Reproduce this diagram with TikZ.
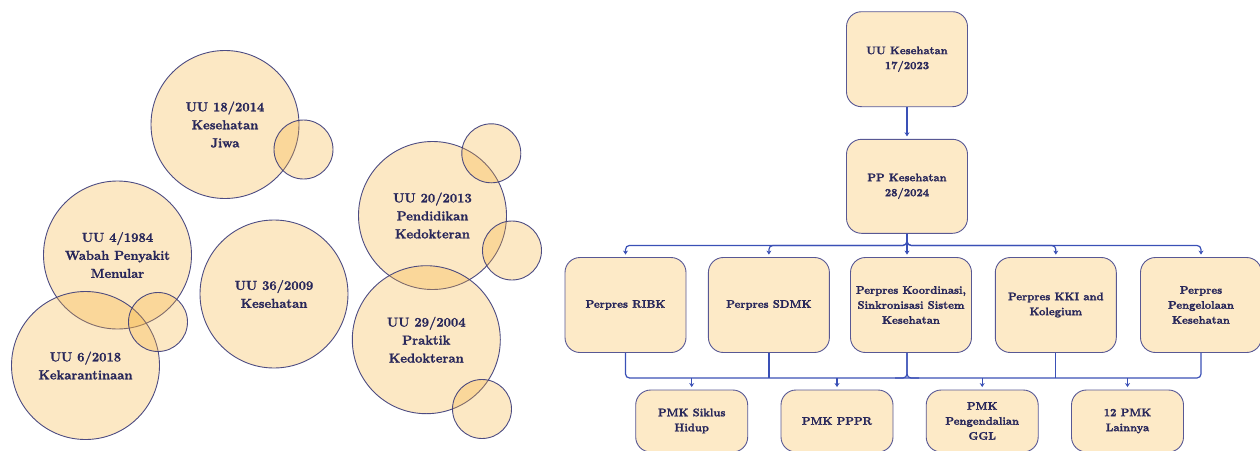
\documentclass[tikz,border=0pt]{standalone}
\usepackage{fontspec}
\setmainfont{Latin Modern Roman}[BoldFeatures={FakeBold=1.6}]
\usetikzlibrary{arrows.meta}
\definecolor{ink}{RGB}{40,39,90}
\definecolor{circline}{RGB}{58,58,120}
\definecolor{bubblefill}{RGB}{245,178,58}
\definecolor{boxfill}{RGB}{253,234,199}
\definecolor{boxline}{RGB}{88,88,148}
\definecolor{wire}{RGB}{58,80,182}
\begin{document}
\begin{tikzpicture}[x=1pt,y=-1pt,
  bubble/.style={circle, draw=circline, line width=0.9pt, fill=bubblefill,
    fill opacity=0.3, draw opacity=0.9, text opacity=1, inner sep=0pt,
    text=ink, font=\bfseries\fontsize{13}{18}\selectfont, align=center},
  bigbubble/.style={bubble, minimum size=148pt},
  smallbubble/.style={bubble, minimum size=59pt},
  box/.style={draw=boxline, line width=0.9pt, fill=boxfill, rounded corners=15pt,
    text=ink, font=\bfseries\fontsize{11}{15}\selectfont, align=center,
    inner sep=2pt, minimum width=121pt, minimum height=95pt},
  lowbox/.style={box, minimum width=112pt, minimum height=62pt},
  wireline/.style={draw=wire, line width=1.2pt, rounded corners=4pt},
  wirearrow/.style={wireline, -{Stealth[length=4pt,width=5pt]}, shorten >=2.5pt},
]
\useasboundingbox (0,0) rectangle (1260,450);

% ---- bubbles: laws in the health sector ----
\node[bigbubble] (jiwa) at (225,124.5) {UU 18/2014\\Kesehatan\\Jiwa};
\node[smallbubble] (jiwaS) at (303.5,149.5) {};

\node[bigbubble] (wabah) at (117.5,255) {UU 4/1984\\Wabah Penyakit\\Menular};
\node[bigbubble] (karantina) at (85.5,365.5) {UU 6/2018\\Kekarantinaan};
\node[smallbubble] (wabahS) at (158,322) {};

\node[bigbubble] (kes) at (274,294) {UU 36/2009\\Kesehatan};

\node[bigbubble] (dikdok) at (432.5,215.5) {UU 20/2013\\Pendidikan\\Kedokteran};
\node[smallbubble] (dikdokA) at (491.3,153.3) {};
\node[smallbubble] (dikdokB) at (512,250.5) {};

\node[bigbubble] (prakdok) at (426.3,339.7) {UU 29/2004\\Praktik\\Kedokteran};
\node[smallbubble] (prakdokS) at (482,409) {};

% ---- hierarchy of regulations ----
\node[box] (uu) at (907,59.2) {UU Kesehatan\\17/2023};
\node[box, minimum height=94pt] (pp) at (907,186.3) {PP Kesehatan\\28/2024};

\node[box] (ribk) at (625.5,305) {Perpres RIBK};
\node[box] (sdmk) at (768.9,305) {Perpres SDMK};
\node[box] (koord) at (911,305) {Perpres Koordinasi,\\Sinkronisasi Sistem\\Kesehatan};
\node[box] (kki) at (1055.8,305) {Perpres KKI and\\Kolegium};
\node[box] (peng) at (1201,305) {Perpres\\Pengelolaan\\Kesehatan};

\node[lowbox] (siklus) at (691.7,421) {PMK Siklus\\Hidup};
\node[lowbox] (pppr) at (837,421) {PMK PPPR};
\node[lowbox] (ggl) at (982.2,421) {PMK\\Pengendalian\\GGL};
\node[lowbox] (lain) at (1127.5,421) {12 PMK\\Lainnya};

% collector line under the Perpres row
\coordinate (bus) at (0,378);

% connectors
\draw[wirearrow] (uu.south) -- (pp.north);

\draw[wirearrow] (pp.south) -- ++(0,11.7) -| (ribk.north);
\draw[wirearrow] (pp.south) -- ++(0,11.7) -| (sdmk.north);
\draw[wirearrow] (pp.south) -- (pp.south |- koord.north);
\draw[wirearrow] (pp.south) -- ++(0,11.7) -| (kki.north);
\draw[wirearrow] (pp.south) -- ++(0,11.7) -| (peng.north);

\draw[wireline] (ribk.south) |- (bus -| peng.south) -- (peng.south);
\draw[wireline] (sdmk.south) -- (sdmk.south |- bus);
\draw[wireline] (kki.south) -- (kki.south |- bus);
\draw[wireline] (pp.south |- koord.south) |- ([xshift=-12pt]bus -| pp.south);
\draw[wireline] (pp.south |- koord.south) |- ([xshift=12pt]bus -| pp.south);

\draw[wirearrow] (bus -| siklus.north) -- (siklus.north);
\draw[wirearrow] (bus -| pppr.north) -- (pppr.north);
\draw[wirearrow] (bus -| ggl.north) -- (ggl.north);
\draw[wirearrow] (bus -| lain.north) -- (lain.north);
\end{tikzpicture}
\end{document}
